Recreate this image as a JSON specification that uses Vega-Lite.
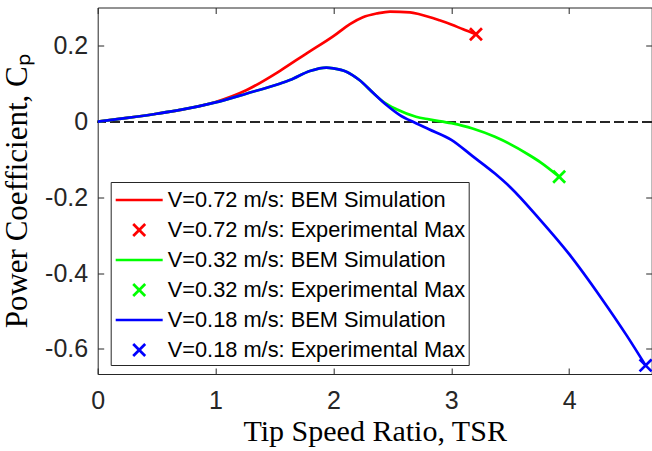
{
  "$schema": "https://vega.github.io/schema/vega-lite/v6.json",
  "autosize": {"type": "none"},
  "padding": {"left": 97.7, "top": 7.5, "right": 0.3, "bottom": 77},
  "width": 554,
  "height": 366.5,
  "background": "white",
  "config": {
    "view": {"stroke": "#262626", "strokeWidth": 1},
    "axis": {
      "labelFont": "Liberation Sans", "labelFontSize": 25, "labelColor": "#262626", "labelFlush": false,
      "titleFont": "Liberation Serif", "titleFontSize": 30, "titleFontWeight": "normal", "titleColor": "#000000",
      "gridColor": "#dedede", "gridWidth": 1, "tickColor": "#262626", "tickSize": -6, "domain": false
    },
    "axisX": {"labelPadding": 20, "titlePadding": 3},
    "axisY": {"labelPadding": 16, "titlePadding": 11, "titleFontSize": 31}
  },
  "data": {"values": [
    {"series": "V=0.72 m/s: BEM Simulation", "kind": "BEM", "tsr": 0, "cp": 0},
    {"series": "V=0.72 m/s: BEM Simulation", "kind": "BEM", "tsr": 0.25, "cp": 0.01},
    {"series": "V=0.72 m/s: BEM Simulation", "kind": "BEM", "tsr": 0.5, "cp": 0.021},
    {"series": "V=0.72 m/s: BEM Simulation", "kind": "BEM", "tsr": 0.7, "cp": 0.031},
    {"series": "V=0.72 m/s: BEM Simulation", "kind": "BEM", "tsr": 1.0, "cp": 0.052},
    {"series": "V=0.72 m/s: BEM Simulation", "kind": "BEM", "tsr": 1.26, "cp": 0.083},
    {"series": "V=0.72 m/s: BEM Simulation", "kind": "BEM", "tsr": 1.55, "cp": 0.135},
    {"series": "V=0.72 m/s: BEM Simulation", "kind": "BEM", "tsr": 1.77, "cp": 0.18},
    {"series": "V=0.72 m/s: BEM Simulation", "kind": "BEM", "tsr": 2.0, "cp": 0.226},
    {"series": "V=0.72 m/s: BEM Simulation", "kind": "BEM", "tsr": 2.14, "cp": 0.258},
    {"series": "V=0.72 m/s: BEM Simulation", "kind": "BEM", "tsr": 2.25, "cp": 0.276},
    {"series": "V=0.72 m/s: BEM Simulation", "kind": "BEM", "tsr": 2.37, "cp": 0.286},
    {"series": "V=0.72 m/s: BEM Simulation", "kind": "BEM", "tsr": 2.48, "cp": 0.291},
    {"series": "V=0.72 m/s: BEM Simulation", "kind": "BEM", "tsr": 2.65, "cp": 0.289},
    {"series": "V=0.72 m/s: BEM Simulation", "kind": "BEM", "tsr": 2.73, "cp": 0.284},
    {"series": "V=0.72 m/s: BEM Simulation", "kind": "BEM", "tsr": 2.9, "cp": 0.268},
    {"series": "V=0.72 m/s: BEM Simulation", "kind": "BEM", "tsr": 3.0, "cp": 0.257},
    {"series": "V=0.72 m/s: BEM Simulation", "kind": "BEM", "tsr": 3.1, "cp": 0.244},
    {"series": "V=0.72 m/s: BEM Simulation", "kind": "BEM", "tsr": 3.209, "cp": 0.231},
    {"series": "V=0.32 m/s: BEM Simulation", "kind": "BEM", "tsr": 0, "cp": 0},
    {"series": "V=0.32 m/s: BEM Simulation", "kind": "BEM", "tsr": 0.25, "cp": 0.01},
    {"series": "V=0.32 m/s: BEM Simulation", "kind": "BEM", "tsr": 0.5, "cp": 0.021},
    {"series": "V=0.32 m/s: BEM Simulation", "kind": "BEM", "tsr": 0.7, "cp": 0.031},
    {"series": "V=0.32 m/s: BEM Simulation", "kind": "BEM", "tsr": 1.0, "cp": 0.051},
    {"series": "V=0.32 m/s: BEM Simulation", "kind": "BEM", "tsr": 1.26, "cp": 0.074},
    {"series": "V=0.32 m/s: BEM Simulation", "kind": "BEM", "tsr": 1.55, "cp": 0.101},
    {"series": "V=0.32 m/s: BEM Simulation", "kind": "BEM", "tsr": 1.63, "cp": 0.11},
    {"series": "V=0.32 m/s: BEM Simulation", "kind": "BEM", "tsr": 1.8, "cp": 0.134},
    {"series": "V=0.32 m/s: BEM Simulation", "kind": "BEM", "tsr": 1.94, "cp": 0.143},
    {"series": "V=0.32 m/s: BEM Simulation", "kind": "BEM", "tsr": 2.0, "cp": 0.141},
    {"series": "V=0.32 m/s: BEM Simulation", "kind": "BEM", "tsr": 2.11, "cp": 0.132},
    {"series": "V=0.32 m/s: BEM Simulation", "kind": "BEM", "tsr": 2.22, "cp": 0.11},
    {"series": "V=0.32 m/s: BEM Simulation", "kind": "BEM", "tsr": 2.34, "cp": 0.075},
    {"series": "V=0.32 m/s: BEM Simulation", "kind": "BEM", "tsr": 2.42, "cp": 0.053},
    {"series": "V=0.32 m/s: BEM Simulation", "kind": "BEM", "tsr": 2.54, "cp": 0.032},
    {"series": "V=0.32 m/s: BEM Simulation", "kind": "BEM", "tsr": 2.7, "cp": 0.013},
    {"series": "V=0.32 m/s: BEM Simulation", "kind": "BEM", "tsr": 2.81, "cp": 0.006},
    {"series": "V=0.32 m/s: BEM Simulation", "kind": "BEM", "tsr": 3.0, "cp": -0.004},
    {"series": "V=0.32 m/s: BEM Simulation", "kind": "BEM", "tsr": 3.18, "cp": -0.018},
    {"series": "V=0.32 m/s: BEM Simulation", "kind": "BEM", "tsr": 3.37, "cp": -0.04},
    {"series": "V=0.32 m/s: BEM Simulation", "kind": "BEM", "tsr": 3.66, "cp": -0.088},
    {"series": "V=0.32 m/s: BEM Simulation", "kind": "BEM", "tsr": 3.76, "cp": -0.108},
    {"series": "V=0.32 m/s: BEM Simulation", "kind": "BEM", "tsr": 3.915, "cp": -0.1455},
    {"series": "V=0.18 m/s: BEM Simulation", "kind": "BEM", "tsr": 0, "cp": 0},
    {"series": "V=0.18 m/s: BEM Simulation", "kind": "BEM", "tsr": 0.25, "cp": 0.01},
    {"series": "V=0.18 m/s: BEM Simulation", "kind": "BEM", "tsr": 0.5, "cp": 0.021},
    {"series": "V=0.18 m/s: BEM Simulation", "kind": "BEM", "tsr": 0.7, "cp": 0.031},
    {"series": "V=0.18 m/s: BEM Simulation", "kind": "BEM", "tsr": 1.0, "cp": 0.051},
    {"series": "V=0.18 m/s: BEM Simulation", "kind": "BEM", "tsr": 1.26, "cp": 0.074},
    {"series": "V=0.18 m/s: BEM Simulation", "kind": "BEM", "tsr": 1.55, "cp": 0.101},
    {"series": "V=0.18 m/s: BEM Simulation", "kind": "BEM", "tsr": 1.63, "cp": 0.11},
    {"series": "V=0.18 m/s: BEM Simulation", "kind": "BEM", "tsr": 1.8, "cp": 0.134},
    {"series": "V=0.18 m/s: BEM Simulation", "kind": "BEM", "tsr": 1.94, "cp": 0.143},
    {"series": "V=0.18 m/s: BEM Simulation", "kind": "BEM", "tsr": 2.0, "cp": 0.141},
    {"series": "V=0.18 m/s: BEM Simulation", "kind": "BEM", "tsr": 2.11, "cp": 0.132},
    {"series": "V=0.18 m/s: BEM Simulation", "kind": "BEM", "tsr": 2.22, "cp": 0.11},
    {"series": "V=0.18 m/s: BEM Simulation", "kind": "BEM", "tsr": 2.34, "cp": 0.075},
    {"series": "V=0.18 m/s: BEM Simulation", "kind": "BEM", "tsr": 2.45, "cp": 0.044},
    {"series": "V=0.18 m/s: BEM Simulation", "kind": "BEM", "tsr": 2.56, "cp": 0.018},
    {"series": "V=0.18 m/s: BEM Simulation", "kind": "BEM", "tsr": 2.7, "cp": -0.004},
    {"series": "V=0.18 m/s: BEM Simulation", "kind": "BEM", "tsr": 2.81, "cp": -0.02},
    {"series": "V=0.18 m/s: BEM Simulation", "kind": "BEM", "tsr": 3.0, "cp": -0.048},
    {"series": "V=0.18 m/s: BEM Simulation", "kind": "BEM", "tsr": 3.18, "cp": -0.091},
    {"series": "V=0.18 m/s: BEM Simulation", "kind": "BEM", "tsr": 3.37, "cp": -0.137},
    {"series": "V=0.18 m/s: BEM Simulation", "kind": "BEM", "tsr": 3.5, "cp": -0.173},
    {"series": "V=0.18 m/s: BEM Simulation", "kind": "BEM", "tsr": 3.75, "cp": -0.258},
    {"series": "V=0.18 m/s: BEM Simulation", "kind": "BEM", "tsr": 4.0, "cp": -0.35},
    {"series": "V=0.18 m/s: BEM Simulation", "kind": "BEM", "tsr": 4.27, "cp": -0.465},
    {"series": "V=0.18 m/s: BEM Simulation", "kind": "BEM", "tsr": 4.49, "cp": -0.566},
    {"series": "V=0.18 m/s: BEM Simulation", "kind": "BEM", "tsr": 4.648, "cp": -0.644},
    {"series": "V=0.72 m/s: Experimental Max", "kind": "Exp", "tsr": 3.209, "cp": 0.231},
    {"series": "V=0.32 m/s: Experimental Max", "kind": "Exp", "tsr": 3.915, "cp": -0.1455},
    {"series": "V=0.18 m/s: Experimental Max", "kind": "Exp", "tsr": 4.648, "cp": -0.644}
  ]},
  "layer": [
    {
      "mark": {"type": "rule", "strokeDash": [9, 5], "color": "#262626", "strokeWidth": 1.6},
      "encoding": {
        "y": {"datum": 0, "type": "quantitative",
              "scale": {"domain": [-0.6667, 0.3017], "nice": false, "zero": false},
              "axis": null}
      }
    },
    {
      "transform": [{"filter": "datum.kind == 'Exp'"}],
      "mark": {"type": "point", "opacity": 0},
      "encoding": {
        "x": {"field": "tsr", "type": "quantitative",
              "scale": {"domain": [0, 4.7], "nice": false, "zero": false},
              "axis": {"orient": "top", "values": [0, 1, 2, 3, 4], "labels": false, "title": null, "grid": false}},
        "y": {"field": "cp", "type": "quantitative",
              "scale": {"domain": [-0.6667, 0.3017], "nice": false, "zero": false},
              "axis": {"orient": "right", "values": [-0.6, -0.4, -0.2, 0, 0.2], "labels": false, "title": null, "grid": false}}
      }
    },
    {
      "transform": [{"filter": "datum.kind == 'BEM'"}],
      "mark": {"type": "line", "strokeWidth": 2.7, "interpolate": "monotone"},
      "encoding": {
        "x": {"field": "tsr", "type": "quantitative", "title": "Tip Speed Ratio, TSR",
              "scale": {"domain": [0, 4.7], "nice": false, "zero": false},
              "axis": {"orient": "bottom", "values": [0, 1, 2, 3, 4]}},
        "y": {"field": "cp", "type": "quantitative", "title": "Power Coefficient, Cₚ",
              "scale": {"domain": [-0.6667, 0.3017], "nice": false, "zero": false},
              "axis": {"orient": "left", "values": [-0.6, -0.4, -0.2, 0, 0.2], "labelExpr": "toString(datum.value)"}},
        "color": {"field": "series", "type": "nominal", "sort": null,
                  "scale": {"domain": ["V=0.72 m/s: BEM Simulation", "V=0.72 m/s: Experimental Max", "V=0.32 m/s: BEM Simulation", "V=0.32 m/s: Experimental Max", "V=0.18 m/s: BEM Simulation", "V=0.18 m/s: Experimental Max"],
                            "range": ["#ff0000", "#ff0000", "#00ff00", "#00ff00", "#0000ff", "#0000ff"]},
                  "legend": {"title": null, "orient": "none", "legendX": 13, "legendY": 174.5, "padding": 3,
                             "fillColor": "white", "strokeColor": "#262626", "cornerRadius": 0,
                             "labelFont": "Liberation Sans", "labelFontSize": 21.8, "labelColor": "#000000", "labelLimit": 600,
                             "symbolSize": 729, "symbolStrokeWidth": 2.7, "rowPadding": 3, "labelOffset": 13.5, "symbolOffset": 10.5}}
      }
    },
    {
      "transform": [{"filter": "datum.kind == 'Exp'"}],
      "mark": {"type": "point", "filled": false, "strokeWidth": 2.7, "size": 729, "opacity": 1},
      "encoding": {
        "x": {"field": "tsr", "type": "quantitative",
              "scale": {"domain": [0, 4.7], "nice": false, "zero": false},
              "axis": null},
        "y": {"field": "cp", "type": "quantitative",
              "scale": {"domain": [-0.6667, 0.3017], "nice": false, "zero": false},
              "axis": null},
        "color": {"field": "series", "type": "nominal", "sort": null,
                  "scale": {"domain": ["V=0.72 m/s: BEM Simulation", "V=0.72 m/s: Experimental Max", "V=0.32 m/s: BEM Simulation", "V=0.32 m/s: Experimental Max", "V=0.18 m/s: BEM Simulation", "V=0.18 m/s: Experimental Max"],
                            "range": ["#ff0000", "#ff0000", "#00ff00", "#00ff00", "#0000ff", "#0000ff"]},
                  "legend": {"title": null, "orient": "none", "legendX": 13, "legendY": 174.5, "padding": 3,
                             "fillColor": "white", "strokeColor": "#262626", "cornerRadius": 0,
                             "labelFont": "Liberation Sans", "labelFontSize": 21.8, "labelColor": "#000000", "labelLimit": 600,
                             "symbolSize": 729, "symbolStrokeWidth": 2.7, "rowPadding": 3, "labelOffset": 13.5, "symbolOffset": 10.5}},
        "shape": {"field": "series", "type": "nominal", "sort": null,
                  "scale": {"domain": ["V=0.72 m/s: BEM Simulation", "V=0.72 m/s: Experimental Max", "V=0.32 m/s: BEM Simulation", "V=0.32 m/s: Experimental Max", "V=0.18 m/s: BEM Simulation", "V=0.18 m/s: Experimental Max"],
                            "range": ["M-1.74,0L1.74,0", "M-0.444,-0.444L0.444,0.444M-0.444,0.444L0.444,-0.444", "M-1.74,0L1.74,0", "M-0.444,-0.444L0.444,0.444M-0.444,0.444L0.444,-0.444", "M-1.74,0L1.74,0", "M-0.444,-0.444L0.444,0.444M-0.444,0.444L0.444,-0.444"]},
                  "legend": {"title": null, "orient": "none", "legendX": 13, "legendY": 174.5, "padding": 3,
                             "fillColor": "white", "strokeColor": "#262626", "cornerRadius": 0,
                             "labelFont": "Liberation Sans", "labelFontSize": 21.8, "labelColor": "#000000", "labelLimit": 600,
                             "symbolSize": 729, "symbolStrokeWidth": 2.7, "rowPadding": 3, "labelOffset": 13.5, "symbolOffset": 10.5}}
      }
    }
  ]
}
